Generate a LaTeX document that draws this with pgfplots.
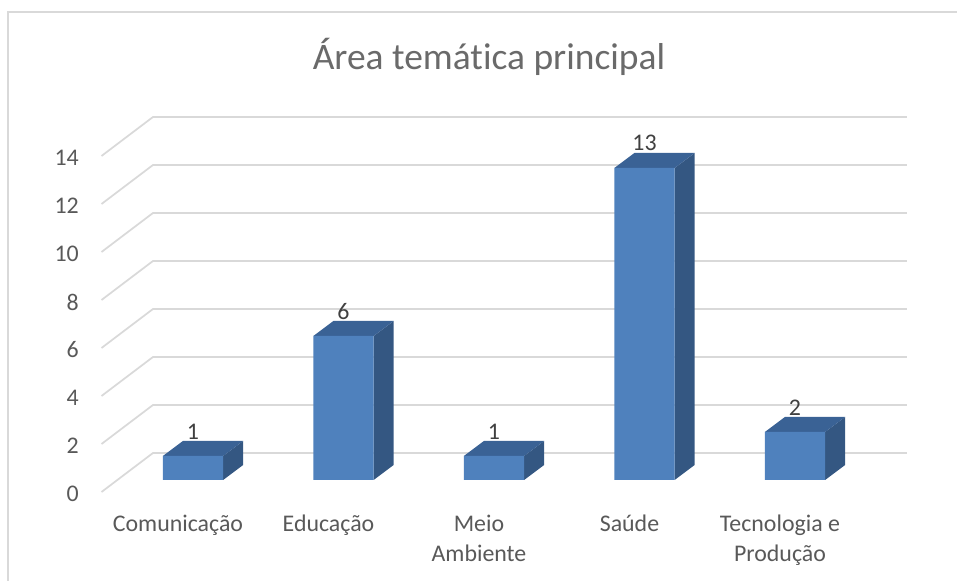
\documentclass[border=0pt]{standalone}
\usepackage{fontspec}
\setmainfont[Ligatures=CommonOff]{Carlito}
\usepackage{pgfplots}
\pgfplotsset{compat=1.18}
\definecolor{barfront}{HTML}{4F81BD}
\definecolor{bartop}{HTML}{3A6295}
\definecolor{barside}{HTML}{345782}
\definecolor{gridc}{HTML}{D9D9D9}
\definecolor{txt}{HTML}{595959}
\definecolor{lbl}{HTML}{404040}
\begin{document}
\begin{tikzpicture}
\path[use as bounding box] (0pt,0pt) rectangle (717.75pt,435.75pt);
\draw[gridc,line width=1.3pt] (6pt,0pt) -- (6pt,426.75pt) -- (717.75pt,426.75pt);
\node[font=\fontsize{28.1}{33}\selectfont,text=txt!90,anchor=center] at (366.75pt,393pt) {Área temática principal};
\begin{axis}[
  at={(76.125pt,75.75pt)},anchor=south west,
  scale only axis,
  width=604.1pt,height=252pt,
  xmin=-0.608,xmax=4.744,ymin=0,ymax=14,
  clip=false,
  axis line style={draw=none},
  major tick length=0pt,
  tick style={draw=none},
  xtick={0,1,2,3,4},
  xticklabels={Comunicação,Educação,{Meio\\Ambiente},Saúde,{Tecnologia e\\Produção}},
  ytick={0,2,4,6,8,10,12,14},
  /pgf/number format/assume math mode=true,
  tick label style={font=\fontsize{17.9}{22.5}\selectfont,text=txt},
  x tick label style={align=center,anchor=north,xshift=-11.25pt,yshift=-22.5pt},
  y tick label style={anchor=east,xshift=-13.5pt,yshift=-10.5pt},
]
% gridlines
\addplot[gridc,line width=1.3pt] coordinates {(-0.608,-0.5)(-0.266,1.125)(4.744,1.125)};
\addplot[gridc,line width=1.3pt] coordinates {(-0.608,1.5)(-0.266,3.125)(4.744,3.125)};
\addplot[gridc,line width=1.3pt] coordinates {(-0.608,3.5)(-0.266,5.125)(4.744,5.125)};
\addplot[gridc,line width=1.3pt] coordinates {(-0.608,5.5)(-0.266,7.125)(4.744,7.125)};
\addplot[gridc,line width=1.3pt] coordinates {(-0.608,7.5)(-0.266,9.125)(4.744,9.125)};
\addplot[gridc,line width=1.3pt] coordinates {(-0.608,9.5)(-0.266,11.125)(4.744,11.125)};
\addplot[gridc,line width=1.3pt] coordinates {(-0.608,11.5)(-0.266,13.125)(4.744,13.125)};
\addplot[gridc,line width=1.3pt] coordinates {(-0.608,13.5)(-0.266,15.125)(4.744,15.125)};
% side faces
\addplot[fill=barside,draw=none] coordinates {(0.2,0)(0.333,0.625)(0.333,1.625)(0.2,1)} -- cycle;
\addplot[fill=barside,draw=none] coordinates {(1.2,0)(1.333,0.625)(1.333,6.625)(1.2,6)} -- cycle;
\addplot[fill=barside,draw=none] coordinates {(2.2,0)(2.333,0.625)(2.333,1.625)(2.2,1)} -- cycle;
\addplot[fill=barside,draw=none] coordinates {(3.2,0)(3.333,0.625)(3.333,13.625)(3.2,13)} -- cycle;
\addplot[fill=barside,draw=none] coordinates {(4.2,0)(4.333,0.625)(4.333,2.625)(4.2,2)} -- cycle;
% top faces
\addplot[fill=bartop,draw=none] coordinates {(-0.2,1)(-0.067,1.625)(0.333,1.625)(0.2,1)} -- cycle;
\addplot[fill=bartop,draw=none] coordinates {(0.8,6)(0.933,6.625)(1.333,6.625)(1.2,6)} -- cycle;
\addplot[fill=bartop,draw=none] coordinates {(1.8,1)(1.933,1.625)(2.333,1.625)(2.2,1)} -- cycle;
\addplot[fill=bartop,draw=none] coordinates {(2.8,13)(2.933,13.625)(3.333,13.625)(3.2,13)} -- cycle;
\addplot[fill=bartop,draw=none] coordinates {(3.8,2)(3.933,2.625)(4.333,2.625)(4.2,2)} -- cycle;
% front faces with value labels
\addplot[ybar,bar width=45.2pt,fill=barfront,draw=none,
  nodes near coords,
  nodes near coords style={font=\fontsize{17.9}{21}\selectfont,text=lbl,anchor=center,yshift=18.5pt,
    /pgf/number format/assume math mode=true}]
  coordinates {(0,1)(1,6)(2,1)(3,13)(4,2)};
\end{axis}
\end{tikzpicture}
\end{document}
